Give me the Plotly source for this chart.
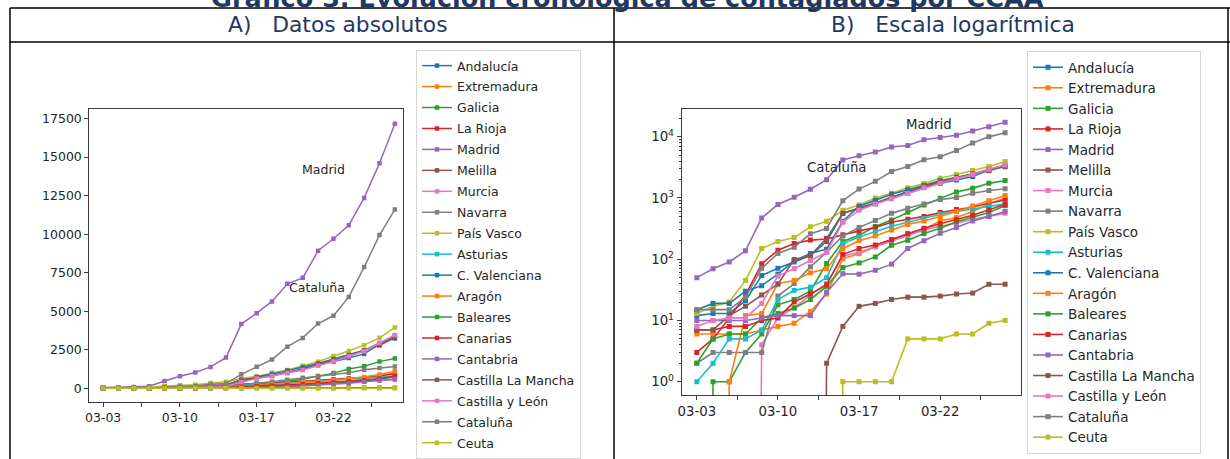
import plotly.graph_objects as go

dates = ["03-03", "03-04", "03-05", "03-06", "03-09", "03-10", "03-11", "03-12", "03-13", "03-16",
         "03-17", "03-18", "03-19", "03-20", "03-21", "03-22", "03-23", "03-24", "03-25", "03-26"]

regions = ["Andalucía", "Extremadura", "Galicia", "La Rioja", "Madrid", "Melilla", "Murcia", "Navarra",
           "País Vasco", "Asturias", "C. Valenciana", "Aragón", "Baleares", "Canarias", "Cantabria",
           "Castilla La Mancha", "Castilla y León", "Cataluña", "Ceuta"]

andalucia = [12, 13, 13, 21, 54, 71, 90, 115, 219, 557, 683, 842, 1010, 1287, 1515, 1725, 1961, 2232, 2862, 3406]
extremadura = [6, 6, 6, 6, 7, 8, 9, 14, 27, 102, 123, 160, 210, 260, 310, 420, 480, 600, 800, 1000]
galicia = [0, 1, 1, 3, 6, 18, 22, 30, 85, 195, 245, 341, 435, 582, 767, 984, 1250, 1433, 1730, 1926]
la_rioja = [3, 5, 11, 26, 84, 140, 181, 205, 214, 250, 290, 330, 400, 450, 500, 580, 650, 710, 820, 925]
madrid = [50, 70, 90, 137, 469, 782, 1024, 1388, 1990, 4165, 4871, 5637, 6777, 7165, 8921, 9702, 10575, 12352, 14597, 17166]
melilla = [0, 0, 0, 0, 0, 0, 0, 0, 2, 8, 17, 19, 22, 24, 24, 25, 27, 28, 39, 39]
murcia = [0, 0, 0, 0, 4, 11, 16, 26, 40, 113, 130, 160, 197, 245, 301, 345, 388, 450, 500, 560]
navarra = [2, 3, 3, 3, 3, 25, 40, 75, 130, 240, 330, 430, 560, 680, 800, 940, 1014, 1197, 1320, 1411]
pais_vasco = [13, 17, 20, 45, 149, 195, 225, 338, 417, 630, 764, 1001, 1190, 1465, 1725, 2097, 2421, 2800, 3271, 3946]
asturias = [1, 2, 5, 5, 7, 22, 31, 35, 50, 180, 230, 280, 345, 400, 460, 540, 600, 660, 720, 800]
c_valenciana = [15, 19, 19, 30, 37, 57, 94, 124, 146, 418, 734, 920, 1150, 1363, 1604, 1900, 2167, 2464, 2940, 3233]
aragon = [0, 0, 1, 12, 13, 40, 45, 60, 70, 150, 200, 240, 300, 370, 420, 500, 600, 740, 900, 1100]
baleares = [2, 5, 6, 6, 11, 13, 16, 22, 36, 73, 87, 109, 169, 203, 262, 319, 408, 480, 580, 744]
canarias = [7, 7, 8, 8, 10, 11, 20, 27, 38, 120, 150, 170, 210, 260, 320, 380, 440, 520, 640, 784]
cantabria = [10, 10, 10, 10, 11, 12, 12, 12, 29, 58, 57, 66, 83, 150, 200, 265, 330, 420, 500, 600]
castilla_la_mancha = [7, 7, 12, 17, 26, 39, 99, 115, 194, 562, 671, 801, 1044, 1197, 1563, 1819, 2078, 2465, 2780, 3300]
castilla_y_leon = [8, 10, 11, 11, 19, 53, 70, 95, 130, 400, 630, 800, 970, 1185, 1466, 1744, 2084, 2404, 2940, 3465]
cataluna = [15, 15, 15, 24, 71, 124, 156, 260, 316, 903, 1394, 1866, 2702, 3270, 4203, 4704, 5925, 7864, 9937, 11592]
ceuta = [0, 0, 0, 0, 0, 0, 0, 0, 0, 1, 1, 1, 1, 5, 5, 5, 6, 6, 9, 10]

series = [andalucia, extremadura, galicia, la_rioja, madrid, melilla, murcia, navarra, pais_vasco,
          asturias, c_valenciana, aragon, baleares, canarias, cantabria, castilla_la_mancha,
          castilla_y_leon, cataluna, ceuta]

lin_ticks = [0, 2500, 5000, 7500, 10000, 12500, 15000, 17500]
log_ticks = [1, 10, 100, 1000, 10000]
x_major = [0, 5, 10, 15]
x_minor = [2.5, 7.5, 12.5, 17.5]

title_text = "Gráfico 3. Evolución cronológica de contagiados por CCAA"
header_a = "A)   Datos absolutos"
header_b = "B)   Escala logarítmica"

tab10 = ['#1f77b4', '#ff7f0e', '#2ca02c', '#d62728', '#9467bd',
         '#8c564b', '#e377c2', '#7f7f7f', '#bcbd22', '#17becf']

W, H = 1230, 459
def fx(p):
    return p / W
def fy(p):
    return 1 - p / H

FONT = "DejaVu Sans"
TXT = "#262626"
AX = "#3c3c3c"
NAVY = "#1F3864"
FS_A = 12.5
FS_B = 13.3

x_idx = list(range(len(dates)))
fig = go.Figure()

for k, (name, vals) in enumerate(zip(regions, series)):
    c = tab10[k % 10]
    fig.add_trace(go.Scatter(
        x=x_idx, y=vals, name=name, mode="lines+markers",
        line=dict(color=c, width=1.5), marker=dict(symbol="square", size=4.5, color=c),
        xaxis="x", yaxis="y", legend="legend", legendgroup="a%d" % k, showlegend=True))

for k, (name, vals) in enumerate(zip(regions, series)):
    c = tab10[k % 10]
    logvals = [v if v > 0 else 1e-30 for v in vals]
    fig.add_trace(go.Scatter(
        x=x_idx, y=logvals, name=name, mode="lines+markers",
        line=dict(color=c, width=1.6), marker=dict(symbol="square", size=5, color=c),
        xaxis="x2", yaxis="y2", legend="legend2", legendgroup="b%d" % k, showlegend=True))

def axis_common(fs):
    return dict(showline=True, mirror=True, linecolor=AX, linewidth=1, ticks="outside",
                ticklen=4, tickwidth=1, tickcolor=AX, showgrid=False, zeroline=False,
                tickfont=dict(family=FONT, size=fs, color=TXT))

xminor = dict(tickvals=x_minor, ticks="outside", ticklen=4, tickwidth=1, tickcolor=AX, showgrid=False)

minor_vals = []
for dec in log_ticks:
    for m in range(2, 10):
        minor_vals.append(dec * m)

fig.update_layout(
    width=W, height=H, margin=dict(l=0, r=0, t=0, b=0),
    paper_bgcolor="white", plot_bgcolor="white", template="none",
    font=dict(family=FONT, size=FS_A, color=TXT),
    xaxis=dict(domain=[fx(89.3), fx(403.3)], range=[-0.9, 19.55], tickvals=x_major,
               ticktext=[dates[i] for i in x_major], anchor="y", minor=xminor, **axis_common(FS_A)),
    yaxis=dict(domain=[fy(401.7), fy(109.3)], range=[-870, 18100], tickvals=lin_ticks,
               ticktext=[str(t) for t in lin_ticks], anchor="x", **axis_common(FS_A)),
    xaxis2=dict(domain=[fx(681.7), fx(1020.7)], range=[-0.93, 19.96], tickvals=x_major,
                ticktext=[dates[i] for i in x_major], anchor="y2", minor=xminor, **axis_common(FS_B)),
    yaxis2=dict(type="log", domain=[fy(395), fy(109)], range=[-0.217, 4.452], tickvals=log_ticks,
                ticktext=["10<sup>%d</sup>" % i for i in range(len(log_ticks))], anchor="x2",
                minor=dict(tickvals=minor_vals, ticks="outside", ticklen=2, tickcolor=AX, showgrid=False),
                **axis_common(FS_B)),
    legend=dict(x=fx(416), y=fy(55), xanchor="left", yanchor="top", bgcolor="rgba(255,255,255,0.9)",
                bordercolor="#d6d6d6", borderwidth=1, tracegroupgap=1.7,
                font=dict(family=FONT, size=FS_A, color=TXT)),
    legend2=dict(x=fx(1027), y=fy(51), xanchor="left", yanchor="top", bgcolor="rgba(255,255,255,0.9)",
                 bordercolor="#d6d6d6", borderwidth=1, tracegroupgap=0,
                 font=dict(family=FONT, size=13.5, color=TXT)),
    showlegend=True,
)

ann = []
ann.append(dict(text="<b>%s</b>" % title_text, xref="paper", yref="paper", x=fx(627), y=fy(15.5),
                xanchor="center", yanchor="bottom", showarrow=False,
                font=dict(family=FONT, size=25.5, color=NAVY)))
ann.append(dict(text=header_a, xref="paper", yref="paper", x=fx(338), y=fy(25), xanchor="center",
                yanchor="middle", showarrow=False, font=dict(family=FONT, size=21.8, color=NAVY)))
ann.append(dict(text=header_b, xref="paper", yref="paper", x=fx(953), y=fy(25), xanchor="center",
                yanchor="middle", showarrow=False, font=dict(family=FONT, size=21.8, color=NAVY)))
ann.append(dict(text="Madrid", xref="x", yref="y", x=12.85, y=13600, xanchor="left", yanchor="bottom",
                showarrow=False, font=dict(family=FONT, size=FS_A, color=TXT)))
ann.append(dict(text="Cataluña", xref="x", yref="y", x=12.0, y=5930, xanchor="left", yanchor="bottom",
                showarrow=False, font=dict(family=FONT, size=FS_A, color=TXT)))
ann.append(dict(text="Madrid", xref="x2", yref="y2", x=12.77, y=4.044, xanchor="left", yanchor="bottom",
                showarrow=False, font=dict(family=FONT, size=FS_B, color=TXT)))
ann.append(dict(text="Cataluña", xref="x2", yref="y2", x=6.67, y=3.347, xanchor="left", yanchor="bottom",
                showarrow=False, font=dict(family=FONT, size=FS_B, color=TXT)))
fig.update_layout(annotations=ann)

shapes = []
line_style = dict(color="black", width=1.5)
shapes.append(dict(type="line", xref="paper", yref="paper", x0=fx(10), x1=fx(1230), y0=fy(8), y1=fy(8), line=line_style))
shapes.append(dict(type="line", xref="paper", yref="paper", x0=fx(10), x1=fx(1230), y0=fy(42), y1=fy(42), line=line_style))
shapes.append(dict(type="line", xref="paper", yref="paper", x0=fx(10), x1=fx(10), y0=fy(8), y1=fy(459), line=line_style))
shapes.append(dict(type="line", xref="paper", yref="paper", x0=fx(614), x1=fx(614), y0=fy(8), y1=fy(459), line=line_style))
shapes.append(dict(type="line", xref="paper", yref="paper", x0=fx(1228), x1=fx(1228), y0=fy(8), y1=fy(459), line=line_style))
fig.update_layout(shapes=shapes)

fig.write_html("out.html", config={"displayModeBar": False},
               post_script="document.body.style.margin='0px';document.body.style.overflow='hidden';")
